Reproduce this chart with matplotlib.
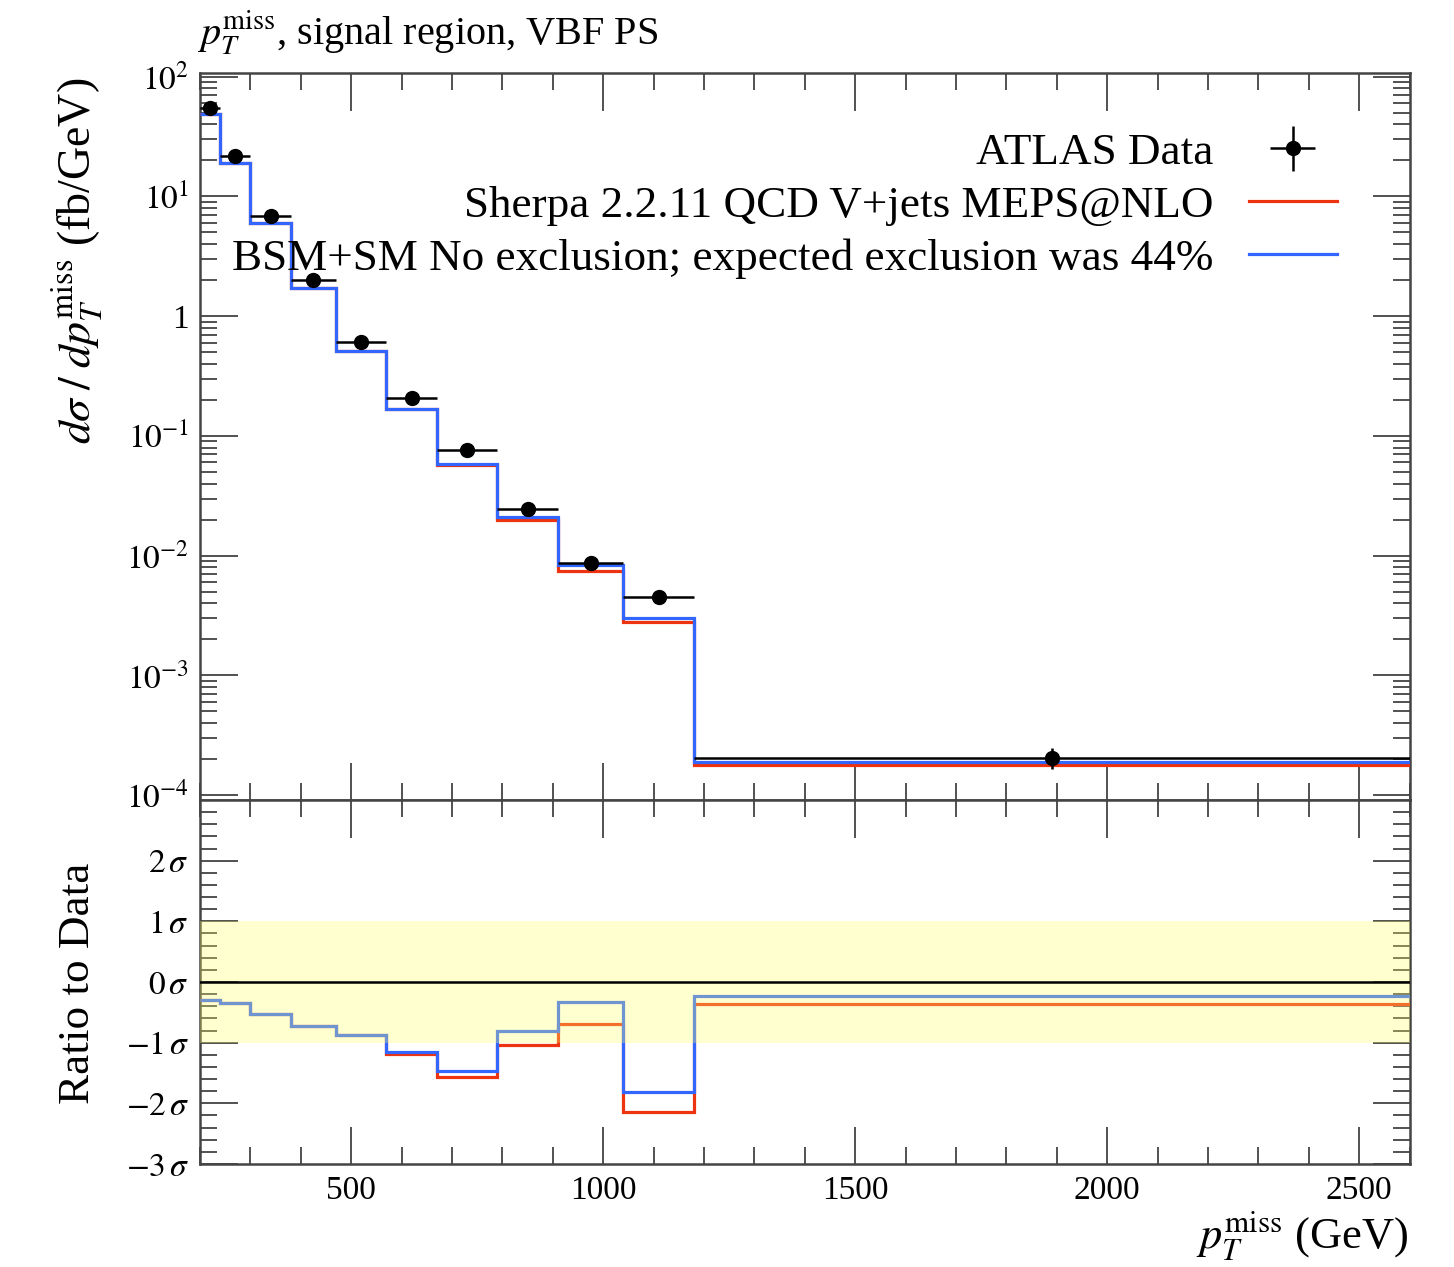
import matplotlib
matplotlib.use("Agg")
import matplotlib.pyplot as plt
import numpy as np
from matplotlib.ticker import LogLocator, FuncFormatter, MultipleLocator, NullFormatter, FixedLocator
from matplotlib.lines import Line2D

# ---------------- data ----------------
edges = [200, 240, 300, 380, 470, 570, 670, 790, 910, 1040, 1180, 2600]
data_vals = [54.4, 21.6, 6.84, 2.01, 0.608, 0.208, 0.0757, 0.0244, 0.00875, 0.00449, 2.06e-4]
data_errs = [1.0, 0.4, 0.15, 0.05, 0.02, 0.008, 0.003, 0.0012, 0.0005, 0.0004, 4.0e-5]
sherpa_vals = [48.7, 19.2, 5.98, 1.73, 0.512, 0.169, 0.0567, 0.0200, 0.00746, 0.00277, 1.78e-4]
bsm_vals = [48.7, 19.2, 5.98, 1.73, 0.512, 0.169, 0.0578, 0.0211, 0.00831, 0.00302, 1.89e-4]
sherpa_ratio = [-0.29, -0.34, -0.52, -0.73, -0.87, -1.19, -1.57, -1.04, -0.69, -2.15, -0.37]
bsm_ratio = [-0.29, -0.34, -0.52, -0.73, -0.87, -1.16, -1.46, -0.81, -0.33, -1.82, -0.23]
ratio_ticks = [-3, -2, -1, 0, 1, 2]

label_data = "ATLAS Data"
label_sherpa = "Sherpa 2.2.11 QCD V+jets MEPS@NLO"
label_bsm = "BSM+SM No exclusion; expected exclusion was 44%"

RED = "#EE3311"
BLUE = "#3366FF"

plt.rcParams["font.family"] = ["Liberation Serif", "DejaVu Serif"]
plt.rcParams["mathtext.fontset"] = "stix"

W, H = 1454, 1267
fig = plt.figure(figsize=(W / 100, H / 100), dpi=100)

def fx(px):
    return px / W

def fy(py):
    return 1 - py / H

left, right = 200, 1409.5
ax = fig.add_axes([fx(left), fy(800), fx(right - left), fy(72.7) - fy(800)])
axr = fig.add_axes([fx(left), fy(1164), fx(right - left), fy(800) - fy(1164)])

e = np.array(edges, dtype=float)
centers = 0.5 * (e[:-1] + e[1:])
halfw = 0.5 * (e[1:] - e[:-1])

# ---------------- upper panel ----------------
ax.stairs(sherpa_vals, edges, color=RED, lw=2.3, zorder=3, baseline=None)
ax.stairs(bsm_vals, edges, color=BLUE, lw=2.3, zorder=4, baseline=None)
eb = ax.errorbar(centers, data_vals, xerr=halfw, yerr=data_errs, fmt="o", color="black",
                 ms=10, lw=1.8, capsize=0, zorder=5)

ax.set_yscale("log")
ax.set_xlim(200, 2600)
ax.set_ylim(9.1e-5, 108)

def logfmt(v, pos):
    ex = int(round(np.log10(v)))
    if ex == 0:
        return "1"
    return r"$10^{%d}$" % ex

ax.yaxis.set_major_locator(LogLocator(base=10, numticks=20))
ax.yaxis.set_minor_locator(LogLocator(base=10, subs=np.arange(2, 10), numticks=20))
ax.yaxis.set_major_formatter(FuncFormatter(logfmt))
ax.yaxis.set_minor_formatter(NullFormatter())
ax.xaxis.set_major_locator(MultipleLocator(500))
ax.xaxis.set_minor_locator(MultipleLocator(100))
ax.xaxis.set_major_formatter(NullFormatter())

for a in (ax, axr):
    a.tick_params(which="both", direction="in", top=True, right=True, labelsize=24, colors="#333333",
                  labelcolor="black")
    a.tick_params(which="major", length=27, width=1.2, pad=8)
    a.tick_params(which="minor", length=12, width=1.2)
    for s in a.spines.values():
        s.set_linewidth(1.8)
        s.set_color("#444444")

leg = ax.legend([eb, Line2D([], [], color=RED, lw=2.3), Line2D([], [], color=BLUE, lw=2.3)],
                [label_data, label_sherpa, label_bsm],
                loc="upper right", bbox_to_anchor=(0.940, 0.918), frameon=False,
                markerfirst=False, fontsize=32.5, handlelength=1.95, handletextpad=0.78,
                labelspacing=0.27, borderpad=0, borderaxespad=0)

# ---------------- ratio panel ----------------
axr.stairs(sherpa_ratio, edges, color=RED, lw=2.3, zorder=3, baseline=None)
axr.stairs(bsm_ratio, edges, color=BLUE, lw=2.3, zorder=4, baseline=None)
axr.axhspan(-1, 1, color="#ffff66", alpha=0.3, lw=0, zorder=5)
axr.axhline(0, color="black", lw=1.8, zorder=6)
axr.set_xlim(200, 2600)
axr.set_ylim(-3, 3)
minor_r = [v for v in np.round(np.arange(-3, 3.001, 0.2), 1) if abs(v - round(v)) > 1e-6]
axr.yaxis.set_major_locator(FixedLocator(ratio_ticks))
axr.yaxis.set_minor_locator(FixedLocator(minor_r))
axr.yaxis.set_minor_formatter(NullFormatter())
axr.yaxis.set_major_formatter(FuncFormatter(lambda v, p: r"$%d\,\sigma$" % v))
axr.xaxis.set_major_locator(MultipleLocator(500))
axr.xaxis.set_minor_locator(MultipleLocator(100))

# ---------------- labels ----------------
fig.text(fx(197), fy(33), r"$p_T^{\rm miss}$, signal region, VBF PS", fontsize=29,
         ha="left", va="center")
fig.text(fx(78), fy(78), r"$d\sigma\;/\;dp_T^{\rm miss}$ (fb/GeV)", fontsize=33,
         rotation=90, ha="center", va="top")
fig.text(fx(78), fy(983), "Ratio to Data", fontsize=32.5, rotation=90, ha="center", va="center")
fig.text(fx(1409), fy(1262), r"$p_T^{\rm miss}$ (GeV)", fontsize=32, ha="right", va="bottom")

fig.savefig("out.png", dpi=100)
